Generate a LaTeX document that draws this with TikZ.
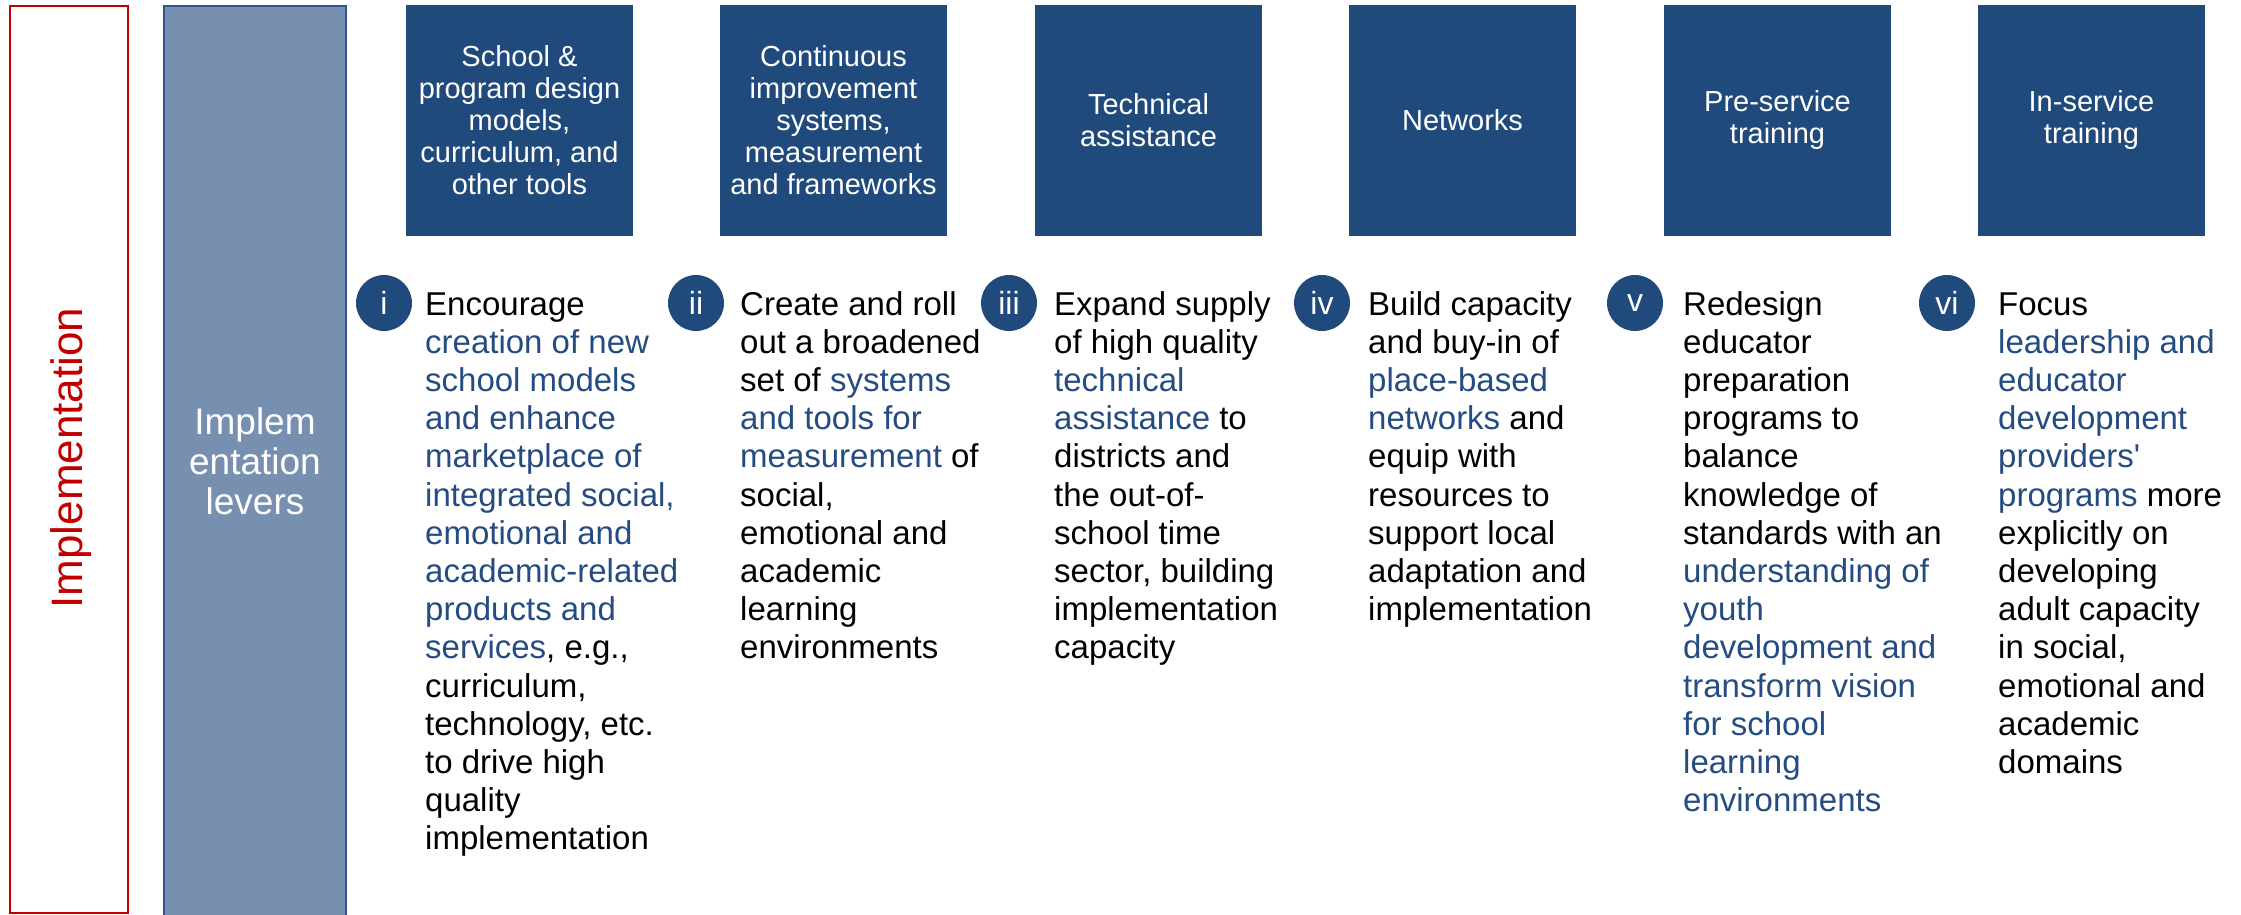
\documentclass[tikz,border=0pt]{standalone}
\usepackage{fontspec}
\setmainfont{Liberation Sans}[Ligatures=TeXOff]
\definecolor{darkblue}{HTML}{214A7C}
\definecolor{bluetext}{HTML}{254C82}
\definecolor{leverfill}{HTML}{7890B0}
\definecolor{leverdraw}{HTML}{2F5496}
\definecolor{redc}{HTML}{C00000}
\newcommand{\bl}[1]{\textcolor{bluetext}{#1}}
\tikzset{
  topbox/.style={fill=darkblue, minimum width=227, minimum height=231, inner sep=0pt,
    text=white, align=center, font=\fontsize{29}{32}\selectfont},
  numcirc/.style={circle, fill=darkblue, minimum size=56, inner sep=0pt, text=white,
    font=\fontsize{32}{34}\selectfont},
  bodytext/.style={anchor=base west, inner sep=0pt, text=black,
    font=\fontsize{33}{38.2}\selectfont}
}
\newcommand{\coltext}[1]{\parbox[t]{300pt}{\raggedright #1}}
\begin{document}
\begin{tikzpicture}[x=1pt,y=-1pt]
\useasboundingbox (0,0) rectangle (2241,915);
% left frames
\draw[redc, line width=2pt] (10,6) rectangle (128,913);
\node[rotate=90, text=redc, font=\fontsize{44}{48}\selectfont, inner sep=0pt] (impl) at (71,458) {Implementation};
\draw[leverdraw, fill=leverfill, line width=2pt] (164,6) rectangle (346,916);
\node[text=white, align=center, font=\fontsize{37}{40}\selectfont, inner sep=0pt] (levers) at (255,461) {Implem\\entation\\levers};
% top boxes
\node[topbox] (b1) at (519.5,120.5) {School \&\\program design\\models,\\curriculum, and\\other tools};
\node[topbox] (b2) at (833.5,120.5) {Continuous\\improvement\\systems,\\measurement\\and frameworks};
\node[topbox] (b3) at (1148.5,120.5) {Technical\\assistance};
\node[topbox] (b4) at (1462.5,120.5) {Networks};
\node[topbox] (b5) at (1777.5,120.5) {Pre-service\\training};
\node[topbox] (b6) at (2091.5,120.5) {In-service\\training};
% numbered circles
\node[numcirc] (c1) at (384,303) {i};
\node[numcirc] (c2) at (696,303) {ii};
\node[numcirc] (c3) at (1009,303) {iii};
\node[numcirc] (c4) at (1322,303) {iv};
\node[numcirc] (c5) at (1635,303) {v};
\node[numcirc] (c6) at (1947,303) {vi};
% body texts
\node[bodytext] (t1) at (425,315) {\coltext{Encourage\\
\bl{creation of new}\\
\bl{school models}\\
\bl{and enhance}\\
\bl{marketplace of}\\
\bl{integrated social,}\\
\bl{emotional and}\\
\bl{academic-related}\\
\bl{products and}\\
\bl{services}, e.g.,\\
curriculum,\\
technology, etc.\\
to drive high\\
quality\\
implementation}};
\node[bodytext] (t2) at (740,315) {\coltext{Create and roll\\
out a broadened\\
set of \bl{systems}\\
\bl{and tools for}\\
\bl{measurement} of\\
social,\\
emotional and\\
academic\\
learning\\
environments}};
\node[bodytext] (t3) at (1054,315) {\coltext{Expand supply\\
of high quality\\
\bl{technical}\\
\bl{assistance} to\\
districts and\\
the out-of-\\
school time\\
sector, building\\
implementation\\
capacity}};
\node[bodytext] (t4) at (1368,315) {\coltext{Build capacity\\
and buy-in of\\
\bl{place-based}\\
\bl{networks} and\\
equip with\\
resources to\\
support local\\
adaptation and\\
implementation}};
\node[bodytext] (t5) at (1683,315) {\coltext{Redesign\\
educator\\
preparation\\
programs to\\
balance\\
knowledge of\\
standards with an\\
\bl{understanding of}\\
\bl{youth}\\
\bl{development and}\\
\bl{transform vision}\\
\bl{for school}\\
\bl{learning}\\
\bl{environments}}};
\node[bodytext] (t6) at (1998,315) {\coltext{Focus\\
\bl{leadership and}\\
\bl{educator}\\
\bl{development}\\
\bl{providers'}\\
\bl{programs} more\\
explicitly on\\
developing\\
adult capacity\\
in social,\\
emotional and\\
academic\\
domains}};
\end{tikzpicture}
\end{document}
